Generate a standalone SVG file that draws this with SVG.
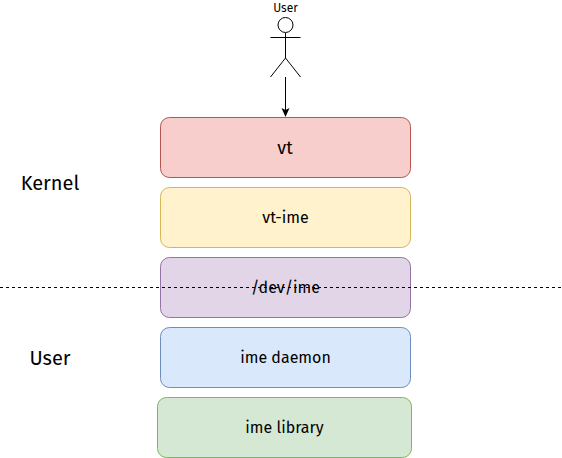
<svg xmlns="http://www.w3.org/2000/svg" width="562" height="458" viewBox="0 0 562 458">
<style>
text{font-family:"Fira Sans","Open Sans","Noto Sans",sans-serif;fill:#000;text-anchor:middle}
.b{stroke-width:1}
.l{fill:none;stroke:#000;stroke-width:1}
</style>
<defs><marker id="a" markerWidth="8" markerHeight="9" refX="4" refY="8" orient="auto-start-reverse" markerUnits="userSpaceOnUse" viewBox="0 0 8 9"><path d="M0 0L4 2L8 0L4 8Z" fill="#000"/></marker></defs>
<rect width="562" height="458" fill="#fff"/>
<g id="user-actor"><circle class="l" cx="285.500" cy="25" r="7.500"/><path class="l" d="M285.500 33V58M270.500 37.500H300.500M285.500 58L270.500 77M285.500 58L300.500 77"/><text x="285.500" y="12" font-size="12">User</text></g>
<g id="vt"><rect class="b" x="160.500" y="117.500" width="250" height="60" rx="9" fill="#f8cecc" stroke="#b85450"/><text x="285" y="154" font-size="18">vt</text></g>
<g id="vt-ime"><rect class="b" x="160.500" y="187.500" width="250" height="60" rx="9" fill="#fff2cc" stroke="#d6b656"/><text x="285.500" y="223" font-size="16">vt-ime</text></g>
<g id="dev-ime"><rect class="b" x="160.500" y="257.500" width="250" height="60" rx="9" fill="#e1d5e7" stroke="#9673a6"/><text x="285.500" y="293" font-size="16">/dev/ime</text></g>
<g id="ime-daemon"><rect class="b" x="160.500" y="327.500" width="250" height="60" rx="9" fill="#dae8fc" stroke="#6c8ebf"/><text x="285.500" y="363" font-size="16">ime daemon</text></g>
<g id="ime-library"><rect class="b" x="157.500" y="397.500" width="254" height="60" rx="9" fill="#d5e8d4" stroke="#82b366"/><text x="284.500" y="433" font-size="16">ime library</text></g>
<g id="kernel-label"><text x="50" y="190" font-size="20">Kernel</text></g>
<g id="user-label"><text x="50" y="365" font-size="20">User</text></g>
<g id="connectors"><path class="l" d="M285.500 77V110"/><path d="M281.500 108L285.500 110L289.500 108L285.500 117Z" fill="#000"/><path class="l" stroke-dasharray="3 3" d="M0 287.500H562"/></g>
</svg>
